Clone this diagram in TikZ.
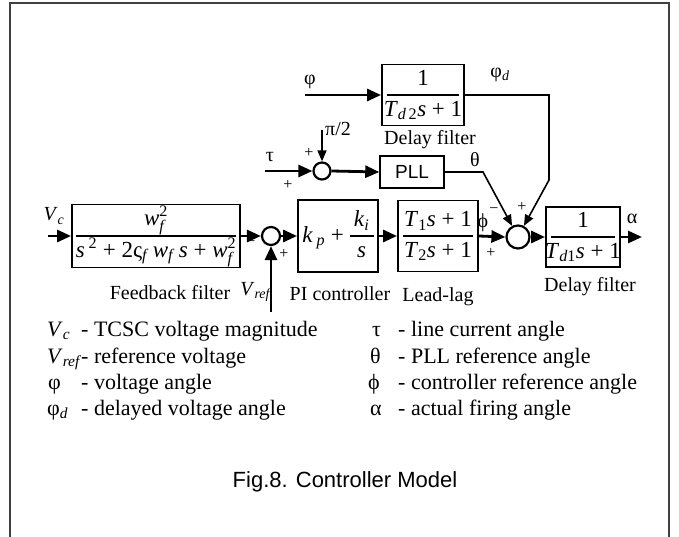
\documentclass[tikz,border=0pt]{standalone}
\usepackage{amsmath}
\usepackage{fontspec}
\setmainfont{Liberation Serif}
\newfontfamily\capfont{Liberation Sans}
\usetikzlibrary{arrows.meta}
\newcommand{\iv}[1]{\textit{#1}}
\newcommand{\frc}[3]{{\setlength{\arrayrulewidth}{1.3pt}\renewcommand{\arraystretch}{1.12}%
  \begin{tabular}{@{}c@{}}\makebox[#1]{#2}\\\hline\makebox[#1]{#3}\end{tabular}}}

\begin{document}
\begin{tikzpicture}[x=1pt,y=-1pt,
  blk/.style={draw,line width=1.9pt,inner sep=0pt,font=\fontsize{23}{26}\selectfont},
  sumc/.style={circle,draw,line width=2.2pt,inner sep=0pt},
  sig/.style={line width=2.8pt,-{Triangle[length=14pt,width=12pt]}},
  fb/.style={line width=1.6pt,-{Triangle[length=11pt,width=9pt]}},
  lbl/.style={font=\fontsize{20}{24}\selectfont,inner sep=0pt},
  sgn/.style={font=\fontsize{16}{18}\selectfont,inner sep=0pt},
  lgd/.style={font=\fontsize{22}{26}\selectfont,inner sep=0pt,anchor=base west}]
\useasboundingbox (0,0) rectangle (679,537);
\draw[line width=2pt,black!75] (10,537) -- (10,3) -- (669,3) -- (669,537);

% blocks
\node[blk,minimum width=168pt,minimum height=63pt] (ffilt) at (156,236)
  {\frc{160pt}{$\iv{w}^{\text{2}}_{\iv{f}}$}
   {\iv{s}\,\textsuperscript{2} + 2ς\textsubscript{\iv{f}}\,\iv{w}\textsubscript{\iv{f}}\,\iv{s} + $\iv{w}^{\text{2}}_{\iv{f}}$}};
\node[sumc,minimum size=18pt] (sum1) at (271,236) {};
\node[blk,minimum width=80pt,minimum height=72pt] (pi) at (338,236)
  {\iv{k}\,\textsubscript{\iv{p}} + \frc{24pt}{\iv{k}\textsubscript{\iv{i}}}{\iv{s}}};
\node[blk,minimum width=80pt,minimum height=71pt] (leadlag) at (438,236)
  {\frc{70pt}{\iv{T}\textsubscript{1}\iv{s} + 1}{\iv{T}\textsubscript{2}\iv{s} + 1}};
\node[sumc,minimum size=23pt] (sum3) at (518,237) {};
\node[blk,minimum width=74pt,minimum height=59pt] (delay1) at (583,237)
  {\frc{64pt}{1}{\iv{T}\textsubscript{\iv{d}1}\iv{s} + 1}};
\node[blk,minimum width=82pt,minimum height=61pt] (delay2) at (423,95)
  {\frc{72pt}{1}{\iv{T}\textsubscript{\iv{d}\,2}\iv{s} + 1}};
\node[sumc,minimum size=17pt] (sum2) at (322,171) {};
\node[blk,line width=1.5pt,font=\capfont\fontsize{19}{22}\selectfont,minimum width=64pt,minimum height=32pt] (pll) at (412,172) {PLL};

% signals
\coordinate (vcin) at (48,236);
\coordinate (alout) at (642,237);
\coordinate (vrefin) at (271,312);
\coordinate (phin) at (305,95);
\coordinate (tauin) at (265,171);
\coordinate (piin) at (322,130);
\coordinate (phd) at (549,180);
\coordinate (thk) at (483,172);
\draw[sig] (vcin) -- (ffilt.west);
\draw[sig] (ffilt.east) -- (sum1.west);
\draw[sig] (sum1.east) -- (pi.west);
\draw[sig] (pi.east) -- (leadlag.west);
\draw[sig] (leadlag.east) -- (sum3.west);
\draw[sig] (sum3.east) -- (delay1.west);
\draw[sig] (delay1.east) -- (alout);
\draw[sig] (vrefin) -- (sum1.south);
\draw[sig] (phin) -- (delay2.west);
\draw[sig] (tauin) -- (sum2.west);
\draw[sig] (sum2.east) -- (pll.west);
\draw[fb] (piin) -- (sum2.north);
\draw[fb] (delay2.east) -| (phd) -- (sum3.62);
\draw[fb] (pll.east) -- (thk) -- (sum3.118);

% labels
\node[lbl] (vcl) at (54,216) {\iv{V}\textsubscript{\iv{c}}};
\node[sgn] (m1) at (251,244) {−};
\node[sgn] (p1) at (284,254) {+};
\node[lbl] (vrefl) at (256,292) {\iv{V}\textsubscript{\iv{ref}}};
\node[lbl] (ffl) at (170,293) {Feedback filter};
\node[lbl] (pil) at (340,294) {PI controller};
\node[lbl] (lll) at (438,297) {Lead-lag};
\node[lbl] (d1l) at (590,287) {Delay filter};
\node[lbl] (all) at (632,219) {α};
\node[lbl] (phil) at (483,223) {ϕ};
\node[sgn] (m3) at (494,211) {−};
\node[sgn] (p3a) at (522,207) {+};
\node[sgn] (p3b) at (491,253) {+};
\node[lbl] (phl) at (310,82) {φ};
\node[lbl] (phdl) at (500,75) {φ\textsubscript{\iv{d}}};
\node[lbl] (d2l) at (430,140) {Delay filter};
\node[lbl] (pi2l) at (338,129) {π/2};
\node[sgn] (p2a) at (309,153) {+};
\node[sgn] (p2b) at (288,185) {+};
\node[lbl] (taul) at (270,157) {τ};
\node[lbl] (thl) at (475,160) {θ};

% legend
\node[lgd] (l1s) at (47,336) {\iv{V}\textsubscript{\iv{c}}};
\node[lgd] (l1t) at (81,336) {- TCSC voltage magnitude};
\node[lgd] (l2s) at (47,363) {\iv{V}\textsubscript{\iv{ref}}};
\node[lgd] (l2t) at (81,363) {- reference voltage};
\node[lgd] (l3s) at (48,389) {φ};
\node[lgd] (l3t) at (81,389) {- voltage angle};
\node[lgd] (l4s) at (47,415) {φ\textsubscript{\iv{d}}};
\node[lgd] (l4t) at (81,415) {- delayed voltage angle};
\node[lgd] (r1s) at (372,336) {τ};
\node[lgd] (r1t) at (398,336) {- line current angle};
\node[lgd] (r2s) at (370,363) {θ};
\node[lgd] (r2t) at (398,363) {- PLL reference angle};
\node[lgd] (r3s) at (368,389) {ϕ};
\node[lgd] (r3t) at (398,389) {- controller reference angle};
\node[lgd] (r4s) at (370,415) {α};
\node[lgd] (r4t) at (398,415) {- actual firing angle};

\node[font=\capfont\fontsize{22}{26}\selectfont] (cap) at (345,482) {Fig.8. Controller Model};
\end{tikzpicture}
\end{document}
